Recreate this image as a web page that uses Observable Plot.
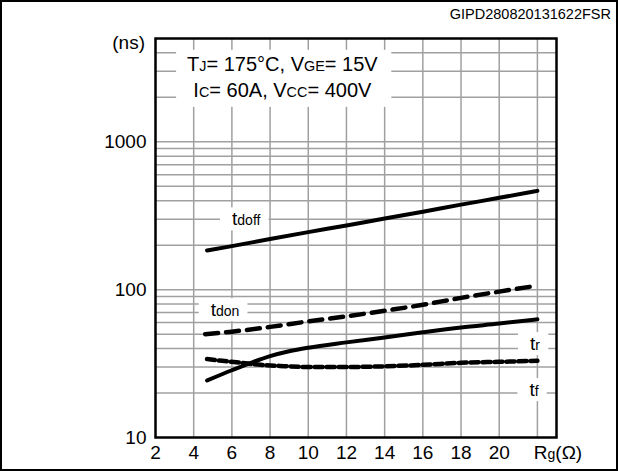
<!DOCTYPE html>
<html><head><meta charset="utf-8">
<script src="https://cdn.jsdelivr.net/npm/d3@7"></script>
<script src="https://cdn.jsdelivr.net/npm/@observablehq/plot@0.6"></script>
<style>
html,body{margin:0;padding:0;background:#fff;}
#wrap{position:relative;width:618px;height:471px;overflow:hidden;background:#fff;}
#border{position:absolute;left:0;top:0;width:618px;height:471px;box-sizing:border-box;border:2px solid #000;pointer-events:none;}
</style></head><body>
<div id="wrap"><div id="chart"></div><div id="border"></div></div>
<script>
const FONT = "'Liberation Sans', Arial, Helvetica, sans-serif";

// axes
const xTicks = [2, 4, 6, 8, 10, 12, 14, 16, 18, 20];
const xGrid = [4, 6, 8, 10, 12, 14, 16, 18, 20, 22];
const yTicks = [10, 100, 1000];
const yGrid = [20, 30, 40, 50, 60, 70, 80, 90, 100, 200, 300, 400, 500, 600, 700, 800, 900, 1000, 2000, 3000, 4000];
const xAxisLabel = [["R", 0], ["g", 1], ["(Ω)", 0]];
const yAxisLabel = "(ns)";
const figureId = "GIPD280820131622FSR";

// series (Rg in ohm, time in ns)
const tdoffRg = [4.7, 6, 8, 10, 12, 14, 16, 18, 20, 22];
const tdoffT  = [184, 197, 220, 245, 272, 303, 337, 376, 418, 466];
const tdonRg  = [4.6, 6, 8, 10, 12, 14, 16, 18, 20, 21.7];
const tdonT   = [50, 52, 56, 61, 66, 72, 79, 88, 97, 105];
const trRg    = [4.7, 6, 7, 8, 9, 10, 12, 14, 16, 18, 20, 22];
const trT     = [24.3, 28.5, 32, 35.5, 38.3, 40.5, 44, 47.5, 51.5, 55.5, 59, 63];
const tfRg    = [4.7, 5.5, 6.5, 7.5, 8.5, 10, 12, 14, 16, 18, 20, 22];
const tfT     = [34, 33, 32, 31, 30.5, 30, 30, 30.3, 31, 32, 32.5, 33];

// annotations
const condLine1 = [["T", 0], ["J", 1], ["= 175°C, V", 0], ["GE", 1], ["= 15V", 0]];
const condLine2 = [["I", 0], ["C", 1], ["= 60A, V", 0], ["CC", 1], ["= 400V", 0]];
const condX = 8.67, condY1 = 3000, condY2 = 2000;
const seriesLabels = [
  {parts: [["t", 0], ["doff", 1]], x: 6.78, y: 270},
  {parts: [["t", 0], ["don", 1]], x: 5.67, y: 65.7},
  {parts: [["t", 0], ["r", 1]], x: 21.9, y: 38.7},
  {parts: [["t", 0], ["f", 1]], x: 21.85, y: 18.9}
];

const toRows = (xs, ys) => xs.map((x, i) => ({x, y: ys[i]}));

const chart = Plot.plot({
  width: 618, height: 471,
  marginLeft: 155, marginRight: 62, marginTop: 38, marginBottom: 34,
  style: {fontFamily: FONT, fontSize: "19px", color: "#000", background: "transparent", overflow: "visible"},
  x: {domain: [2, 23], ticks: xTicks, tickSize: 0, tickPadding: 8, label: null, tickFormat: d => String(d)},
  y: {type: "log", domain: [10, 5000], ticks: yTicks, tickSize: 0, tickPadding: 9, label: null, tickFormat: d => String(d)},
  marks: [
    Plot.ruleX(xGrid, {stroke: "#a0a0a0", strokeWidth: 1.5}),
    Plot.ruleY(yGrid, {stroke: "#a0a0a0", strokeWidth: 1.5}),
    Plot.line(toRows(tdoffRg, tdoffT), {x: "x", y: "y", stroke: "#000", strokeWidth: 4, curve: "monotone-x"}),
    Plot.line(toRows(tdonRg, tdonT), {x: "x", y: "y", stroke: "#000", strokeWidth: 4.5, strokeDasharray: "13,8", curve: "monotone-x"}),
    Plot.line(toRows(trRg, trT), {x: "x", y: "y", stroke: "#000", strokeWidth: 4, curve: "monotone-x"}),
    Plot.line(toRows(tfRg, tfT), {x: "x", y: "y", stroke: "#000", strokeWidth: 4.5, strokeDasharray: "8,4", curve: "monotone-x"}),
    Plot.frame({stroke: "#000", strokeWidth: 2.5})
  ]
});
document.getElementById("chart").appendChild(chart);

function mk(s) {
  if (s.apply) return v => s.apply(v);
  const f = (s.type === "log" ? d3.scaleLog() : d3.scaleLinear()).domain(s.domain).range(s.range);
  return f;
}
const sx = mk(chart.scale("x")), sy = mk(chart.scale("y"));
const svg = d3.select(chart);
const layer = svg.append("g");
const boxes = layer.append("g");
const texts = layer.append("g");

function rich(x, y, parts, size, anchor, subScale) {
  const t = texts.append("text").attr("x", x).attr("y", y)
    .attr("text-anchor", anchor).attr("font-family", FONT).attr("font-size", size).attr("fill", "#000");
  parts.forEach(([s, small]) => t.append("tspan").attr("font-size", small ? size * subScale : size).text(s));
  return t;
}
function boxFor(nodes, padL, padR, padT, padB) {
  let x0 = Infinity, y0 = Infinity, x1 = -Infinity, y1 = -Infinity;
  nodes.forEach(n => { const b = n.node().getBBox(); x0 = Math.min(x0, b.x); y0 = Math.min(y0, b.y); x1 = Math.max(x1, b.x + b.width); y1 = Math.max(y1, b.y + b.height); });
  boxes.append("rect").attr("x", x0 - padL).attr("y", y0 - padT).attr("width", x1 - x0 + padL + padR).attr("height", y1 - y0 + padT + padB).attr("fill", "#fff");
}

// conditions
const c1 = rich(sx(condX), sy(condY1), condLine1, 20, "middle", 0.72);
const c2 = rich(sx(condX), sy(condY2), condLine2, 20, "middle", 0.72);
boxFor([c1, c2], 11, 13, 3, 6);

// series labels
seriesLabels.forEach(l => {
  const t = rich(sx(l.x), sy(l.y), l.parts, 19, "middle", 0.74);
  boxFor([t], 12, 8, 1, 1);
});

// axis labels
rich(sx(23) + 2, 471 - 34 + 22, xAxisLabel, 19, "middle", 0.74);
rich(155 - 10, sy(5000) + 11, [[yAxisLabel, 0]], 19, "end", 1);
rich(611, 19, [[figureId, 0]], 14.5, "end", 1);
</script>
</body></html>
